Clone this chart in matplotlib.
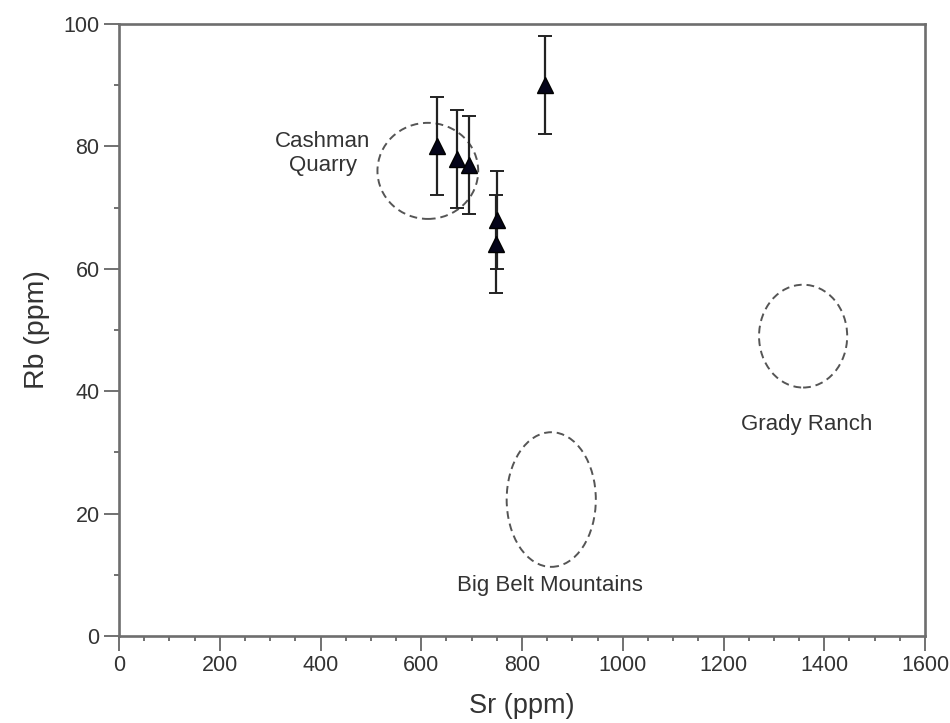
import matplotlib
matplotlib.use("Agg")
import matplotlib.pyplot as plt
from matplotlib.patches import Ellipse
from matplotlib.ticker import MultipleLocator

plt.rcParams['font.family'] = ['Liberation Sans', 'DejaVu Sans']

# Data: Sr (ppm), Rb (ppm), Rb error
sr = [631, 670, 695, 750, 748, 845]
rb = [80, 78, 77, 68, 64, 90]
rb_err = [8, 8, 8, 8, 8, 8]

# Source field ellipses: name, center Sr, center Rb, width (Sr), height (Rb)
field_names = ["Cashman Quarry", "Grady Ranch", "Big Belt Mountains"]
field_sr = [613, 1358, 858]
field_rb = [76, 49, 22.3]
field_w = [200, 175, 177]
field_h = [15.7, 16.8, 22]

# Label positions
label_text = ["Cashman\nQuarry", "Grady Ranch", "Big Belt Mountains"]
label_sr = [405, 1365, 856]
label_rb = [78.8, 34.5, 8.3]

fig = plt.figure(figsize=(9.5, 7.23), dpi=100)
ax = fig.add_axes([0.1253, 0.1203, 0.8484, 0.8465])

for x, y, w, h in zip(field_sr, field_rb, field_w, field_h):
    e = Ellipse((x, y), w, h, fill=False, edgecolor='#555555',
                linestyle=(0, (4, 2.5)), linewidth=1.4)
    ax.add_patch(e)

ax.errorbar(sr, rb, yerr=rb_err, fmt='^', color='#222222', ecolor='#222222',
            elinewidth=1.6, capsize=5, capthick=1.4,
            markersize=12, markerfacecolor='#05051a', markeredgecolor='black',
            zorder=3)

for t, x, y in zip(label_text, label_sr, label_rb):
    ax.text(x, y, t, ha='center', va='center', fontsize=16,
            color='#333333', linespacing=1.2)

ax.set_xlim(0, 1600)
ax.set_ylim(0, 100)
ax.xaxis.set_major_locator(MultipleLocator(200))
ax.xaxis.set_minor_locator(MultipleLocator(50))
ax.yaxis.set_major_locator(MultipleLocator(20))
ax.yaxis.set_minor_locator(MultipleLocator(10))
ax.tick_params(which='both', direction='out', top=False, right=False,
               color='#666666', width=1.3)
ax.tick_params(which='major', length=11, labelsize=15.5, labelcolor='#333333', pad=3)
ax.tick_params(which='minor', length=3.5)

for s in ax.spines.values():
    s.set_color('#6e6e6e')
    s.set_linewidth(1.9)

ax.set_xlabel('Sr (ppm)', fontsize=19.5, color='#333333', labelpad=12)
ax.set_ylabel('Rb (ppm)', fontsize=20.5, color='#333333', labelpad=10)

fig.savefig('out.png', dpi=100)
